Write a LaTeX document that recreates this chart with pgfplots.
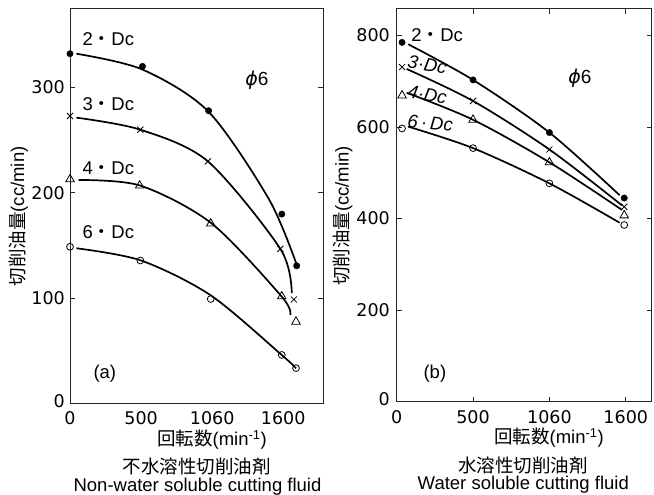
\documentclass[border=0pt]{standalone}
\usepackage{pgfplots}
\pgfplotsset{compat=1.18}
\usepackage{fontspec}
\setmainfont{Liberation Sans}
\newfontfamily\jp{Noto Sans CJK JP}
\newfontfamily\dv{DejaVu Sans}
\newcommand{\fs}{\fontsize{18.5bp}{22bp}\selectfont}
\newcommand{\md}{{\jp ・}}
\newcommand{\phisix}{{\dv\itshape\fontsize{19bp}{22bp}\selectfont ϕ}{\fontsize{19bp}{22bp}\selectfont 6}}
\begin{document}
\begin{tikzpicture}[x=1bp,y=1bp,font=\fs]
\path[use as bounding box] (0,0) rectangle (654,495);
\pgfplotsset{
  panel/.style={
    scale only axis, clip=false,
    axis line style={line width=1bp, black!85},
    xtick={0,1,2,3}, xticklabels={0,500,1060,1600},
    xmin=0, ymin=0,
    tick align=inside,
    tick label style={font=\dv\fontsize{17.5bp}{20bp}\selectfont, inner sep=0pt},
    major tick length=5bp,
    every tick/.style={black!85, line width=1bp},
    label style={font=\fs},
  },
  curve/.style={black, line width=1.7bp, smooth, no markers},
  fdot/.style={only marks, mark=*, mark size=3.2bp, mark options={black, fill=black}},
  odot/.style={only marks, mark=o, mark size=3.4bp, mark options={black, fill=white, line width=0.8bp}},
  xmk/.style={only marks, mark=x, mark size=4.3bp, mark options={black, line width=0.8bp}},
  tmk/.style={only marks, mark=triangle, mark size=4.9bp, mark options={black, fill=white, line width=0.8bp}},
}
% ---------------- (a) ----------------
\begin{axis}[panel, at={(70bp,91bp)}, anchor=south west,
  width=253bp, height=395bp, xmax=3.56, ymax=374.4,
  ytick={0,100,200,300}, yticklabels={\raisebox{5bp}{0},100,200,300},
  xtick style={draw=none},
  xticklabel style={anchor=center, yshift=-14bp},
  yticklabel style={anchor=east, xshift=-5bp},
  xlabel={{\jp 回転数}(min\textsuperscript{-1})},
  xlabel style={at={(axis description cs:0.561,0)}, anchor=center, yshift=-36bp},
  ylabel={{\jp 切削油量}(cc/min)},
  ylabel style={at={(axis description cs:0,0.475)}, anchor=center, yshift=51.7bp},
]
\addplot[curve] coordinates {(0.09,332) (1.02,317) (1.95,277) (2.8,194) (3.19,132)};
\addplot[curve] coordinates {(0.09,271.4) (0.99,260) (1.94,230) (2.96,147) (3.12,105)};
\addplot[curve] coordinates {(0.12,212.3) (0.99,207) (1.99,171.3) (2.98,101.7) (3.10,84.4)};
\addplot[curve] coordinates {(0.09,147.6) (1.0,136) (1.98,103) (2.98,46.4) (3.18,33.8)};
\addplot[fdot] coordinates {(0,332) (1.02,320) (1.95,278) (2.98,180) (3.19,131)};
\addplot[xmk] coordinates {(0,273) (0.99,260) (1.94,230) (2.96,147) (3.15,99)};
\addplot[tmk] coordinates {(0,213) (0.98,207) (1.98,171) (2.98,102) (3.18,78)};
\addplot[odot] coordinates {(0,149) (0.99,136) (1.98,99.5) (2.98,46.5) (3.18,34)};
\node at (axis cs:0.54,345.7) {2\md Dc};
\node at (axis cs:0.54,284) {3\md Dc};
\node at (axis cs:0.54,223.4) {4\md Dc};
\node at (axis cs:0.54,162.7) {6\md Dc};
\node at (axis cs:2.63,307) {\phisix};
\node at (axis cs:0.49,28.4) {(a)};
\end{axis}
% ---------------- (b) ----------------
\begin{axis}[panel, at={(396.7bp,93.3bp)}, anchor=south west,
  width=255bp, height=392.7bp, xmax=3.34, ymax=858,
  ytick={0,200,400,600,800}, yticklabels={\raisebox{5bp}{0},200,400,600,800},
  xticklabel style={anchor=center, yshift=-15bp},
  yticklabel style={anchor=east, xshift=-6.7bp},
  xlabel={{\jp 回転数}(min\textsuperscript{-1})},
  xlabel style={at={(axis description cs:0.597,0)}, anchor=center, yshift=-36.3bp},
  ylabel={{\jp 切削油量}(cc/min)},
  ylabel style={at={(axis description cs:0,0.473)}, anchor=center, yshift=54bp},
]
\addplot[curve] coordinates {(0.15,781) (1.0,703) (2.0,588) (2.92,451)};
\addplot[curve] coordinates {(0.13,727) (1.0,657) (2.0,551) (2.95,429)};
\addplot[curve] coordinates {(0.13,675) (1.0,616) (2.0,523) (2.95,419)};
\addplot[curve] coordinates {(0.15,601) (1.0,554) (2.0,477) (2.92,391)};
\addplot[fdot] coordinates {(0.07,785) (1,703) (2,588) (2.98,445)};
\addplot[xmk] coordinates {(0.07,731) (1,657) (2,551) (2.98,426)};
\addplot[tmk] coordinates {(0.07,669) (1,616) (2,523) (2.98,407)};
\addplot[odot] coordinates {(0.07,597) (1,554) (2,477) (2.98,386)};
\node[inner sep=0pt] at (axis cs:0.53,801) {2\md Dc};
\node[rotate=-10, inner sep=0pt] at (axis cs:0.40,737) {\itshape 3·Dc};
\node[rotate=-10, inner sep=0pt] at (axis cs:0.40,671) {\itshape 4·Dc};
\node[rotate=-5, inner sep=0pt] at (axis cs:0.44,608) {\itshape 6\,·\,Dc};
\node at (axis cs:2.40,707) {\phisix};
\node at (axis cs:0.5,62) {(b)};
\end{axis}
\node at (196.7,28.3) {\jp 不水溶性切削油剤};
\node at (197.5,8.3) {Non-water soluble cutting fluid};
\node at (523,29) {\jp 水溶性切削油剤};
\node at (523.3,10) {Water soluble cutting fluid};
\end{tikzpicture}
\end{document}
